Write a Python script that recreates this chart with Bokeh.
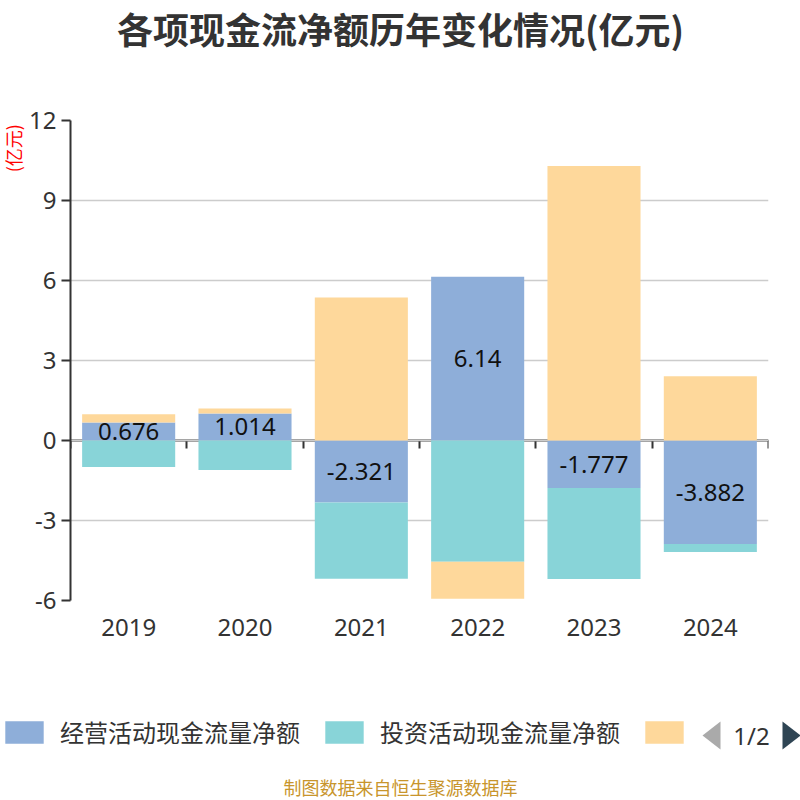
import numpy as np
from bokeh.plotting import figure
from bokeh.layouts import column, row
from bokeh.models import (ColumnDataSource, Range1d, FactorRange, LinearAxis, FixedTicker,
                          Legend, LegendItem, Label, PolyAnnotation)
from bokeh.core.properties import value
from bokeh.embed import file_html
from bokeh.resources import INLINE

years = ["2019", "2020", "2021", "2022", "2023", "2024"]
operating = [0.676, 1.014, -2.321, 6.14, -1.777, -3.882]
investing = [-0.99, -1.11, -2.86, -4.55, -3.42, -0.30]
financing = [0.31, 0.19, 5.36, -1.38, 10.29, 2.41]
series_names = ["经营活动现金流量净额", "投资活动现金流量净额", "筹资活动现金流量净额"]
colors = ["#8eaed9", "#88d4d8", "#fed89b"]
y_ticks = [-6, -3, 0, 3, 6, 9, 12]
title_text = "各项现金流净额历年变化情况(亿元)"
unit_text = "(亿元)"
footer_text = "制图数据来自恒生聚源数据库"
page_text = "1/2"

W = 800
TOP_H = 100
MID_H = 570
BOT_H = 800 - TOP_H - MID_H
LEFT_W = 26
MAIN_W = W - LEFT_W


def blank(width, height):
    f = figure(width=width, height=height, x_range=Range1d(0, width), y_range=Range1d(height, 0),
               output_backend="svg", toolbar_location=None, min_border=0)
    f.axis.visible = False
    f.grid.visible = False
    f.outline_line_color = None
    return f


# ---- title ----
top = blank(W, TOP_H)
top.add_layout(Label(x=W / 2, y=27, text=title_text, text_font="Noto Sans CJK SC",
                     text_font_style="bold", text_font_size="36px", text_color="#333333",
                     text_align="center", text_baseline="middle"))

# ---- unit label ----
left = blank(LEFT_W, MID_H)
left.add_layout(Label(x=12, y=33, text=unit_text, text_font="Noto Sans CJK SC",
                      text_font_size="18px", text_color="#ff0000", angle=np.pi / 2,
                      text_align="center", text_baseline="middle"))

# ---- main chart ----
p = figure(width=MAIN_W, height=MID_H, x_range=FactorRange(*years), y_range=Range1d(-6, 12),
           output_backend="svg", toolbar_location=None, min_border_left=43,
           min_border_right=32, min_border_top=20, min_border_bottom=70)
p.outline_line_color = None

pos = np.zeros(len(years))
neg = np.zeros(len(years))
renderers = []
for vals, col, name in zip([operating, investing, financing], colors, series_names):
    v = np.array(vals, dtype=float)
    bottom = np.where(v >= 0, pos, neg + v)
    topv = np.where(v >= 0, pos + v, neg)
    pos = np.where(v >= 0, pos + v, pos)
    neg = np.where(v < 0, neg + v, neg)
    src = ColumnDataSource(dict(x=years, top=topv, bottom=bottom))
    r = p.vbar(x="x", top="top", bottom="bottom", width=0.8, source=src,
               fill_color=col, line_color=None)
    renderers.append(r)

op = np.array(operating)
lab_src = ColumnDataSource(dict(x=years, y=op / 2, t=[f"{v:g}" for v in operating]))
p.text(x="x", y="y", text="t", source=lab_src, text_align="center", text_baseline="middle",
       text_font=value("Noto Sans"), text_font_size="24px", text_color="#111111")

p.yaxis.ticker = FixedTicker(ticks=y_ticks)
p.yaxis.major_label_overrides = {t: str(t) for t in y_ticks}
p.yaxis.axis_line_color = "#333333"
p.yaxis.axis_line_width = 2
p.yaxis.major_tick_line_color = "#333333"
p.yaxis.major_tick_line_width = 2
p.yaxis.major_tick_out = 9
p.yaxis.major_tick_in = 0
p.yaxis.minor_tick_line_color = None
p.yaxis.major_label_standoff = 5
p.yaxis.major_label_text_font = "Noto Sans"
p.yaxis.major_label_text_font_size = "24px"
p.yaxis.major_label_text_color = "#333333"

p.xaxis.axis_line_color = None
p.xaxis.major_tick_line_color = None
p.xaxis.minor_tick_line_color = None
p.xaxis.major_label_standoff = 12
p.xaxis.major_label_text_font = "Noto Sans"
p.xaxis.major_label_text_font_size = "24px"
p.xaxis.major_label_text_color = "#333333"

boundaries = list(range(len(years) + 1))
zero_axis = LinearAxis(ticker=FixedTicker(ticks=boundaries), fixed_location=0,
                       axis_line_color="#333333", axis_line_width=2,
                       major_tick_line_color="#333333", major_tick_line_width=2,
                       major_tick_out=8, major_tick_in=0, minor_tick_line_color=None,
                       major_label_standoff=0, major_label_overrides={b: "" for b in boundaries},
                       level="underlay")
p.add_layout(zero_axis, "below")

p.xgrid.grid_line_color = None
p.ygrid.ticker = FixedTicker(ticks=y_ticks)
p.ygrid.grid_line_color = "#cccccc"
p.ygrid.grid_line_width = 1.5

# ---- legend / pager / footer ----
bot = blank(W, BOT_H)
leg_r = [bot.vbar(x=[np.nan], top=[np.nan], width=1, fill_color=c, line_color=None)
         for c in colors]
items = [LegendItem(label=series_names[0], renderers=[leg_r[0]]),
         LegendItem(label=series_names[1], renderers=[leg_r[1]]),
         LegendItem(label=" ", renderers=[leg_r[2]])]
legend = Legend(items=items, orientation="horizontal",
                location=(0, BOT_H - 51 - 28),
                glyph_width=48, glyph_height=28, label_height=28, label_standoff=12,
                spacing=20, padding=0, margin=0, border_line_color=None,
                background_fill_alpha=0, label_text_font="Noto Sans CJK SC",
                label_text_font_size="24px", label_text_color="#333333")
bot.add_layout(legend, "center")

cy = 65
bot.add_layout(PolyAnnotation(xs=[720, 720, 702], ys=[cy - 14, cy + 14, cy], fill_color="#aaaaaa",
                              fill_alpha=1, line_color=None))
bot.add_layout(PolyAnnotation(xs=[782, 782, 800], ys=[cy - 14, cy + 14, cy], fill_color="#2f4554",
                              fill_alpha=1, line_color=None))
bot.add_layout(Label(x=751, y=cy, text=page_text, text_font="Noto Sans", text_font_size="24px",
                     text_color="#333333", text_align="center", text_baseline="middle"))
bot.add_layout(Label(x=W / 2, y=116, text=footer_text, text_font="Noto Sans CJK SC",
                     text_font_size="18px", text_color="#c8952c", text_align="center",
                     text_baseline="middle"))

layout = column(top, row(left, p, spacing=0), bot, spacing=0)
open("out.html", "w").write(file_html(layout, INLINE))
